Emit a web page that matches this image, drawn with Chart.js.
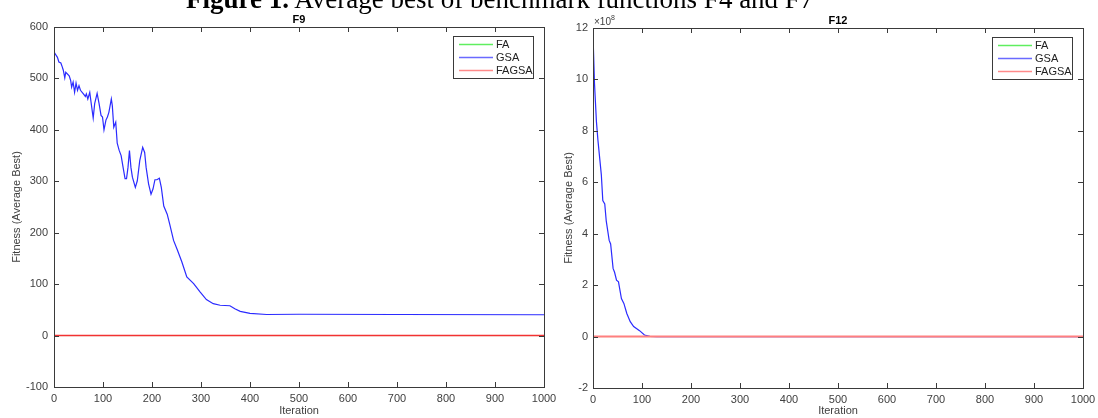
<!DOCTYPE html>
<html>
<head>
<meta charset="utf-8">
<script src="https://cdn.jsdelivr.net/npm/chart.js@4.4.1/dist/chart.umd.min.js"></script>
<style>
  body { margin: 0; background: #fff; width: 1098px; height: 418px; overflow: hidden; position: relative; }
  .wrap { position: absolute; top: 0; height: 418px; }
  #headline {
    position: absolute; left: 186px; top: -14px; z-index: 5;
    font-family: "Liberation Serif", serif; font-size: 27px; line-height: 27px;
    white-space: nowrap; color: #000;
  }
</style>
</head>
<body>
<div id="headline"><b>Figure 1.</b> Average best of benchmark functions F4 and F7</div>
<div class="wrap" style="left:0;width:570px"><canvas id="f9" width="570" height="418"></canvas></div>
<div class="wrap" style="left:549px;width:560px"><canvas id="f12" width="560" height="418"></canvas></div>
<script>
// iteration / value pairs
const f9Iter = [0, 1, 7, 10, 14, 17, 19, 22, 24, 31, 34, 36, 39, 42, 45, 48, 51, 54, 60, 64, 66, 69, 73, 76, 80, 83, 88, 92, 96, 99, 102, 106, 109, 112, 117, 119, 122, 126, 129, 133, 137, 141, 145, 148, 151, 154, 157, 160, 166, 170, 175, 181, 185, 188, 193, 198, 202, 206, 210, 215, 219, 224, 231, 236, 244, 252, 261, 271, 285, 298, 311, 325, 339, 359, 369, 380, 400, 434, 500, 700, 1000];
const f9Gsa = [552, 550, 541, 532, 530, 522, 516, 501, 512, 505, 496, 483, 493, 473, 491, 477, 486, 477, 470, 465, 470, 460, 473, 451, 423, 451, 471, 451, 428, 425, 400, 419, 425, 434, 460, 447, 405, 415, 374, 360, 350, 327, 305, 305, 327, 360, 327, 308, 288, 301, 340, 366, 356, 327, 295, 275, 285, 303, 303, 306, 288, 252, 236, 217, 185, 166, 143, 114, 101, 85, 70, 62, 59, 58, 52, 47, 43, 41, 41.5, 41, 40.5];

const f12Iter = [0, 3, 7, 10, 14, 17, 20, 24, 27, 33, 36, 41, 44, 48, 52, 58, 63, 69, 76, 83, 95, 105, 116, 130, 1000];
const f12Gsa = [11.74e8, 9.86e8, 8.36e8, 7.65e8, 6.87e8, 6.29e8, 5.29e8, 5.16e8, 4.5e8, 3.74e8, 3.6e8, 2.65e8, 2.5e8, 2.19e8, 2.13e8, 1.48e8, 1.29e8, 0.9e8, 0.58e8, 0.39e8, 0.23e8, 0.06e8, 0.01e8, 0, 0];

const flatIter = [0, 1000];
const faVals = [0, 0];
const fagsaVals = [0, 0];

const seriesNames = ["FA", "GSA", "FAGSA"];
const xTicks = [0, 100, 200, 300, 400, 500, 600, 700, 800, 900, 1000];

function pts(xs, ys) {
    return xs.map((x, i) => ({ x: x, y: ys[i] }));
}

const axisColor = "#3a3a3a";
const labelColor = "#404040";
const tickFont = { family: "Liberation Sans", size: 11 };

// box, inward ticks, panel title, legend and exponent note
const framePlugin = {
    id: "frame",
    afterDraw(chart, args, opts) {
        const ctx = chart.ctx;
        const a = chart.chartArea;
        const xs = chart.scales.x, ys = chart.scales.y;
        ctx.save();
        ctx.strokeStyle = axisColor;
        ctx.lineWidth = 1;
        ctx.strokeRect(Math.round(a.left) + 0.5, Math.round(a.top) + 0.5, Math.round(a.right - a.left), Math.round(a.bottom - a.top));
        ctx.beginPath();
        xs.ticks.forEach(t => {
            const px = Math.round(xs.getPixelForValue(t.value)) + 0.5;
            ctx.moveTo(px, a.bottom); ctx.lineTo(px, a.bottom - 5);
            ctx.moveTo(px, a.top); ctx.lineTo(px, a.top + 5);
        });
        ys.ticks.forEach(t => {
            const py = Math.round(ys.getPixelForValue(t.value)) + 0.5;
            ctx.moveTo(a.left, py); ctx.lineTo(a.left + 5, py);
            ctx.moveTo(a.right, py); ctx.lineTo(a.right - 5, py);
        });
        ctx.stroke();

        // panel title
        ctx.fillStyle = "#000";
        ctx.font = "bold 11px 'Liberation Sans'";
        ctx.textAlign = "center";
        ctx.textBaseline = "alphabetic";
        ctx.fillText(opts.title, (a.left + a.right) / 2, a.top - 4);

        // exponent
        if (opts.exponent) {
            ctx.fillStyle = labelColor;
            ctx.textAlign = "left";
            ctx.font = "10px 'Liberation Sans'";
            ctx.fillText("\u00d710", a.left + 1, a.top - 3);
            const w = ctx.measureText("\u00d710").width;
            ctx.font = "7px 'Liberation Sans'";
            ctx.fillText(opts.exponent, a.left + 1 + w, a.top - 8);
        }

        // legend
        const bw = 80, bh = 42;
        const bx = Math.round(a.right - 11 - bw), by = Math.round(a.top + 9);
        ctx.fillStyle = "#fff";
        ctx.fillRect(bx, by, bw, bh);
        ctx.strokeStyle = axisColor;
        ctx.strokeRect(bx + 0.5, by + 0.5, bw, bh);
        ctx.font = "11px 'Liberation Sans'";
        ctx.textBaseline = "middle";
        ctx.textAlign = "left";
        const colors = opts.legendColors;
        seriesNames.forEach((name, i) => {
            const yy = by + 8 + i * 13;
            ctx.strokeStyle = colors[i];
            ctx.lineWidth = 1.5;
            ctx.beginPath();
            ctx.moveTo(bx + 6, yy + 0.5); ctx.lineTo(bx + 40, yy + 0.5);
            ctx.stroke();
            ctx.fillStyle = "#222";
            ctx.fillText(name, bx + 43, yy + 1);
        });
        ctx.restore();
    }
};

function makeChart(id, gsaPts, cfg) {
    return new Chart(document.getElementById(id), {
        type: "line",
        data: {
            datasets: [
                { label: "FA", data: pts(flatIter, faVals), borderColor: "#00ee00", borderWidth: 0.5, order: 2 },
                { label: "GSA", data: gsaPts, borderColor: "#2b2bff", borderWidth: 1.2, order: 1 },
                { label: "FAGSA", data: pts(flatIter, fagsaVals), borderColor: cfg.redColor, borderWidth: cfg.redWidth, order: 0 }
            ]
        },
        options: {
            responsive: false,
            animation: false,
            elements: { point: { radius: 0 }, line: { tension: 0 } },
            layout: { padding: { left: 0, top: cfg.top, right: cfg.right, bottom: 0 } },
            plugins: {
                legend: { display: false },
                tooltip: { enabled: false },
                frame: { title: cfg.title, exponent: cfg.exponent, legendColors: ["#5fee5f", "#6a6aff", "#ff8a8a"] }
            },
            scales: {
                x: {
                    type: "linear", min: 0, max: 1000,
                    afterBuildTicks: s => { s.ticks = xTicks.map(v => ({ value: v })); },
                    grid: { display: false, drawTicks: false },
                    border: { display: false },
                    ticks: { color: labelColor, font: tickFont, padding: 5, maxRotation: 0, callback: v => String(v) },
                    title: { display: true, text: "Iteration", color: labelColor, font: tickFont, padding: { top: 0, bottom: 0 } },
                    afterFit: s => { s.height = cfg.xHeight; }
                },
                y: {
                    min: cfg.yMin, max: cfg.yMax,
                    ticks: {
                        stepSize: cfg.yStep, color: labelColor, font: tickFont, padding: cfg.yPad,
                        callback: v => cfg.exponent ? String(Math.round(v / 1e8)) : String(v)
                    },
                    grid: { display: false, drawTicks: false },
                    border: { display: false },
                    title: { display: true, text: "Fitness (Average Best)", color: labelColor, font: tickFont, padding: { top: cfg.titlePad, bottom: 0 } },
                    afterFit: s => { s.width = cfg.yWidth; }
                }
            }
        },
        plugins: [framePlugin]
    });
}

makeChart("f9", pts(f9Iter, f9Gsa), {
    title: "F9", exponent: null, redColor: "#f23232", redWidth: 1.5,
    top: 27, right: 26, xHeight: 31, yWidth: 54, yPad: 6, titlePad: 10,
    yMin: -100, yMax: 600, yStep: 100
});

makeChart("f12", pts(f12Iter, f12Gsa), {
    title: "F12", exponent: "8", redColor: "#ff7f7f", redWidth: 2,
    top: 28, right: 26, xHeight: 30, yWidth: 44, yPad: 5, titlePad: 13,
    yMin: -2e8, yMax: 12e8, yStep: 2e8
});
</script>
</body>
</html>
